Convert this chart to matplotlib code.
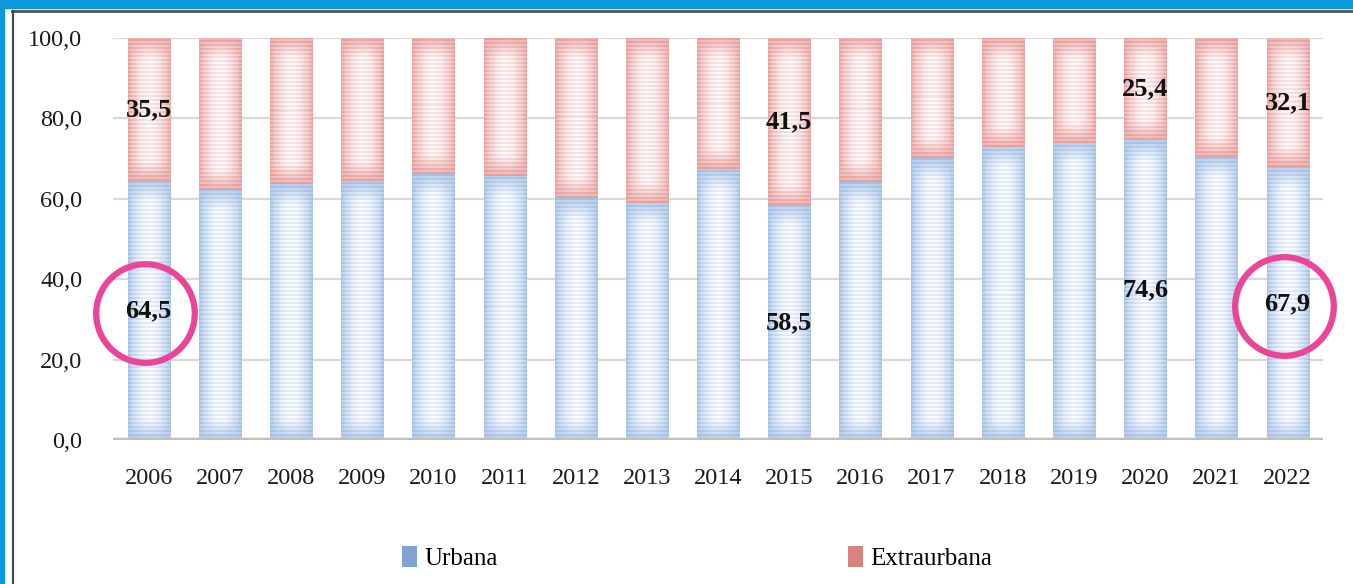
import numpy as np
import matplotlib
matplotlib.use("Agg")
from matplotlib import pyplot as plt
from matplotlib.patches import Rectangle, Patch

# data (percent of accidents, urban vs extra-urban roads)
years = ["2006", "2007", "2008", "2009", "2010", "2011", "2012", "2013", "2014",
         "2015", "2016", "2017", "2018", "2019", "2020", "2021", "2022"]
urbana = [64.5, 62.2, 63.6, 64.3, 66.1, 65.7, 60.1, 59.0, 67.4,
          58.5, 64.1, 70.1, 73.0, 73.9, 74.6, 70.5, 67.9]
extraurbana = [round(100 - u, 1) for u in urbana]
labelled_years = ["2006", "2015", "2020", "2022"]
circled_years = ["2006", "2022"]
yticks = [0, 20, 40, 60, 80, 100]

FONT = "Liberation Serif"
blue_base = np.array([140, 176, 224]) / 255.0
red_base = np.array([226, 136, 134]) / 255.0
white = np.ones(3)


def bar_texture(base, nrows, ncols, h_units):
	# horizontal gradient: darker at edges, light in the middle
	t = np.abs(np.linspace(-1, 1, ncols))
	wx = 1 - t**2
	# vertical: darker close to the segment ends
	d = np.minimum(np.arange(nrows) + 0.5, nrows - np.arange(nrows) - 0.5) / nrows * h_units
	wy = np.clip(d / 5.0, 0, 1)
	w = np.outer(wy, wx)
	stripes = (np.arange(nrows) // 2) % 2
	amount = 0.18 + 0.58 * w + 0.20 * stripes[:, None]
	amount = np.clip(amount, 0, 0.97)
	img = base[None, None, :] + (white - base)[None, None, :] * amount[:, :, None]
	return img


def textured_bars(ax, bars, base):
	px_per_unit = ax.bbox.height / (ax.get_ylim()[1] - ax.get_ylim()[0])
	for b in bars:
		x0, y0 = b.get_x(), b.get_y()
		w, h = b.get_width(), b.get_height()
		nrows = max(int(round(h * px_per_unit)), 2)
		img = bar_texture(base, nrows, 40, h)
		im = ax.imshow(img, extent=(x0, x0 + w, y0, y0 + h), origin="lower",
					   aspect="auto", interpolation="nearest", zorder=2)
		im.set_clip_path(b)


fig = plt.figure(figsize=(13.53, 5.84), dpi=100)
ax = fig.add_axes([0.0835, 0.2466, 0.8945, 0.6884])

x = np.arange(len(years))
width = 0.59
ax.set_xlim(-0.5, len(years) - 0.5)
ax.set_ylim(0, 100)

b1 = ax.bar(x, urbana, width, color="none", edgecolor="none", zorder=2)
b2 = ax.bar(x, extraurbana, width, bottom=urbana, color="none", edgecolor="none", zorder=2)
textured_bars(ax, b1, blue_base)
textured_bars(ax, b2, red_base)
ax.set_xlim(-0.5, len(years) - 0.5)
ax.set_ylim(0, 100)

# grid and baseline
for v in yticks[1:]:
	ax.axhline(v, color="#d9d9d9", lw=1.6, zorder=1)
ax.axhline(0, color="#bfbfbf", lw=3.2, zorder=3)
for s in ax.spines.values():
	s.set_visible(False)

ax.set_yticks(yticks)
ax.set_yticklabels([f"{v:.1f}".replace(".", ",") for v in yticks], fontfamily=FONT, fontsize=17.5)
ax.set_xticks(x)
ax.set_xticklabels(years, fontfamily=FONT, fontsize=17.5)
ax.tick_params(axis="both", length=0, colors="#1a1a1a")
ax.tick_params(axis="x", pad=20)
ax.tick_params(axis="y", pad=22)

# value labels
for i, yr in enumerate(years):
	if yr in labelled_years:
		u, e = urbana[i], extraurbana[i]
		ax.text(i, u / 2, f"{u:.1f}".replace(".", ","), ha="center", va="center",
				fontfamily=FONT, fontweight="bold", fontsize=19, color="#111111", zorder=5)
		ax.text(i, u + e / 2, f"{e:.1f}".replace(".", ","), ha="center", va="center",
				fontfamily=FONT, fontweight="bold", fontsize=19, color="#111111", zorder=5)
	if yr in circled_years:
		ax.plot(i - 0.05, urbana[i] / 2 - 0.6, marker="o", ms=71, mfc="none",
				mec="#ea4598", mew=4.5, clip_on=False, zorder=6)

# legend
handles = [Patch(facecolor="#7fa3d3", edgecolor="none"),
		   Patch(facecolor="#d9837f", edgecolor="none")]
fig.legend(handles, ["Urbana", "Extraurbana"], loc="center", bbox_to_anchor=(0.515, 0.044),
		   ncol=2, frameon=False, prop={"family": FONT, "size": 18}, columnspacing=14,
		   handlelength=0.6, handleheight=0.9, handletextpad=0.3)

# outer frame (blue border + thin dark frame line)
fig.patches.append(Rectangle((0, 1 - 8 / 584), 1, 8 / 584, transform=fig.transFigure,
							 color="#0d98de", zorder=0))
fig.patches.append(Rectangle((0, 0), 4 / 1353, 1, transform=fig.transFigure,
							 color="#0d98de", zorder=0))
fig.lines.append(plt.Line2D([12 / 1353, 1], [1 - 11 / 584, 1 - 11 / 584], transform=fig.transFigure,
							color="#555555", lw=2))
fig.lines.append(plt.Line2D([12.5 / 1353, 12.5 / 1353], [0, 1 - 11 / 584], transform=fig.transFigure,
							color="#444444", lw=1.5))

fig.savefig("out.png", dpi=100)
